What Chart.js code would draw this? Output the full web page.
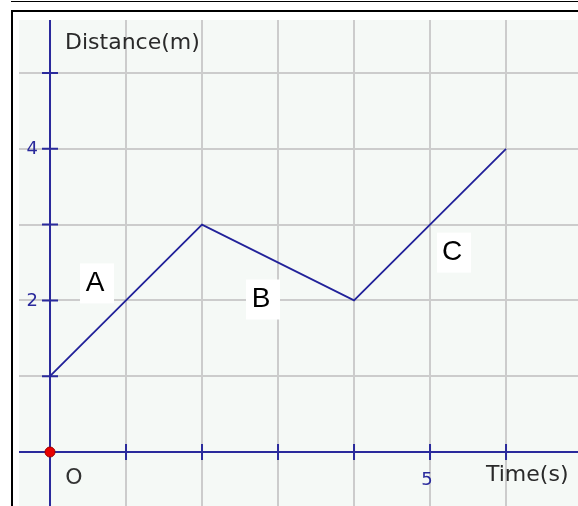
<!DOCTYPE html>
<html lang="en">
<head>
    <meta charset="UTF-8">
    <title>Distance-time graph</title>
    <style>
        html, body {
            margin: 0;
            padding: 0;
            background-color: #ffffff;
        }
        #wrap {
            position: relative;
            width: 578px;
            height: 506px;
            overflow: hidden;
        }
        #topline {
            position: absolute;
            left: 11px;
            top: 1px;
            width: 567px;
            height: 1px;
            background-color: #000;
        }
        #frame {
            position: absolute;
            left: 11px;
            top: 10px;
            width: 600px;
            height: 600px;
            border-top: 2px solid #000;
            border-left: 2px solid #000;
        }
        canvas {
            position: absolute;
            left: 0;
            top: 0;
        }
    </style>
    <script src="https://cdn.jsdelivr.net/npm/chart.js"></script>
</head>
<body>
    <div id="wrap">
        <div id="topline"></div>
        <div id="frame"></div>
        <canvas id="graph" width="578" height="506"></canvas>
    </div>
    <script>
        // pontos do grafico (tempo em s, distancia em m)
        var timeValues = [0, 2, 4, 6];
        var distanceValues = [1, 3, 2, 4];
        var segmentNames = ['A', 'B', 'C'];
        var xLabelValues = [0, 5];
        var xLabelTexts = ['O', '5'];
        var yLabelValues = [2, 4];
        var yLabelTexts = ['2', '4'];
        var xTitle = 'Time(s)';
        var yTitle = 'Distance(m)';

        var axisBlue = '#2a2a9c';
        var lineBlue = '#22229a';

        var points = [];
        for (var i = 0; i < timeValues.length; i++) {
            points.push({x: timeValues[i], y: distanceValues[i]});
        }

        var plotBg = {
            id: 'plotBg',
            beforeDraw: function(chart) {
                var a = chart.chartArea;
                var ctx = chart.ctx;
                ctx.save();
                ctx.fillStyle = '#f5f9f6';
                ctx.fillRect(a.left, a.top, a.right - a.left, a.bottom - a.top);
                ctx.restore();
            }
        };

        // eixos azuis, marcas, rotulos e letras A B C
        var axesPlugin = {
            id: 'axesPlugin',
            beforeDatasetsDraw: function(chart) {
                var ctx = chart.ctx;
                var a = chart.chartArea;
                var xs = chart.scales.x, ys = chart.scales.y;
                var x0 = xs.getPixelForValue(0), y0 = ys.getPixelForValue(0);
                ctx.save();
                ctx.strokeStyle = axisBlue;
                ctx.lineWidth = 2;
                ctx.beginPath();
                ctx.moveTo(x0, a.top);
                ctx.lineTo(x0, a.bottom);
                ctx.moveTo(a.left, y0);
                ctx.lineTo(a.right, y0);
                for (var v = 1; v <= 6; v++) {
                    var px = xs.getPixelForValue(v);
                    ctx.moveTo(px, y0 - 8);
                    ctx.lineTo(px, y0 + 8);
                }
                for (var w = 1; w <= 5; w++) {
                    var py = ys.getPixelForValue(w);
                    ctx.moveTo(x0 - 8, py);
                    ctx.lineTo(x0 + 8, py);
                }
                ctx.stroke();

                // rotulos do eixo y
                ctx.font = '18px "DejaVu Sans"';
                ctx.fillStyle = axisBlue;
                ctx.textAlign = 'right';
                ctx.textBaseline = 'middle';
                for (var j = 0; j < yLabelValues.length; j++) {
                    ctx.fillText(yLabelTexts[j], x0 - 12, ys.getPixelForValue(yLabelValues[j]) + 1);
                }
                // rotulos do eixo x
                ctx.textAlign = 'center';
                ctx.textBaseline = 'alphabetic';
                for (var k = 0; k < xLabelValues.length; k++) {
                    var lx = xs.getPixelForValue(xLabelValues[k]);
                    if (xLabelValues[k] === 0) {
                        ctx.font = '22px "DejaVu Sans"';
                        ctx.fillStyle = '#333333';
                        ctx.fillText(xLabelTexts[k], lx + 24, y0 + 32);
                    } else {
                        ctx.font = '18px "DejaVu Sans"';
                        ctx.fillStyle = axisBlue;
                        ctx.fillText(xLabelTexts[k], lx - 3, y0 + 33);
                    }
                }
                // titulos
                ctx.font = '22px "DejaVu Sans"';
                ctx.fillStyle = '#2a2a2a';
                ctx.textAlign = 'left';
                ctx.fillText(yTitle, x0 + 15, 49);
                ctx.fillText(xTitle, 486, y0 + 29);

                // letras dos trechos
                var offsets = [[-31, -17], [-17, 37], [22, 28]];
                ctx.font = '28px "Liberation Sans"';
                ctx.textAlign = 'center';
                ctx.textBaseline = 'middle';
                for (var s = 0; s < segmentNames.length; s++) {
                    var mx = (xs.getPixelForValue(timeValues[s]) + xs.getPixelForValue(timeValues[s + 1])) / 2;
                    var my = (ys.getPixelForValue(distanceValues[s]) + ys.getPixelForValue(distanceValues[s + 1])) / 2;
                    var cx = mx + offsets[s][0], cy = my + offsets[s][1];
                    ctx.fillStyle = '#ffffff';
                    ctx.fillRect(cx - 15, cy - 20, 34, 40);
                    ctx.fillStyle = '#000000';
                    ctx.fillText(segmentNames[s], cx, cy);
                }
                ctx.restore();
            }
        };

        new Chart(document.getElementById('graph'), {
            type: 'scatter',
            data: {
                datasets: [{
                    data: points,
                    showLine: true,
                    borderColor: lineBlue,
                    borderWidth: 1.8,
                    pointRadius: 0,
                    tension: 0
                }, {
                    data: [{x: 0, y: 0}],
                    pointRadius: 5,
                    pointBackgroundColor: '#e80000',
                    pointBorderColor: '#a00000',
                    pointBorderWidth: 1
                }]
            },
            options: {
                responsive: false,
                animation: false,
                layout: {autoPadding: false, padding: {left: 19, top: 20, right: 0, bottom: 0}},
                plugins: {
                    legend: {display: false},
                    tooltip: {enabled: false}
                },
                scales: {
                    x: {
                        type: 'linear',
                        min: -0.408,
                        max: 6.947,
                        ticks: {display: false, stepSize: 1, includeBounds: false},
                        grid: {color: '#cccccc', lineWidth: 2, drawTicks: false},
                        border: {display: false},
                        afterFit: function(s) { s.height = 0; }
                    },
                    y: {
                        type: 'linear',
                        min: -0.712,
                        max: 5.699,
                        ticks: {display: false, stepSize: 1, includeBounds: false},
                        grid: {color: '#cccccc', lineWidth: 2, drawTicks: false},
                        border: {display: false},
                        afterFit: function(s) { s.width = 0; }
                    }
                }
            },
            plugins: [plotBg, axesPlugin]
        });
    </script>
</body>
</html>
